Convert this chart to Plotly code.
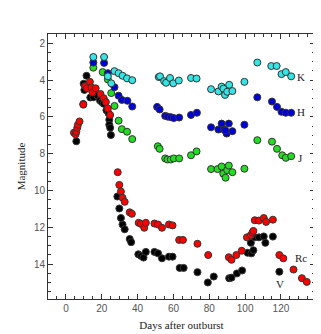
import plotly.graph_objects as go

# V band (black)
v_days = [5.8, 9.7, 9.9, 10.3, 11.5, 13.6, 15.3, 17.5, 19.0, 20.0, 21.1, 22.6, 23.8, 24.2, 24.2, 24.7, 25.1,
          28.7, 29.8, 30.7, 31.6, 32.8, 35.6, 36.4, 40.4, 41.9, 43.3, 44.6, 49.4, 51.4, 53.6, 57.5, 59.5,
          63.5, 65.7, 73.4, 79.2, 82.5, 91.1, 92.4, 95.4, 98.3, 101.4, 103.5, 104.6, 103.2, 105.4, 107.7,
          110.4, 111.3, 115.5, 119.1]
v_mags = [7.33, 5.3, 4.2, 4.54, 3.77, 4.95, 4.94, 4.85, 5.11, 5.2, 5.29, 5.64, 5.81, 6.16, 6.43, 6.6, 6.99,
          10.33, 10.98, 11.5, 11.85, 12.11, 12.64, 12.81, 13.47, 13.56, 13.65, 13.34, 13.34, 13.42, 13.69, 13.6, 13.6,
          14.21, 14.21, 14.44, 15.0, 14.68, 14.77, 14.74, 14.51, 14.35, 13.39, 13.42, 13.25, 12.85, 12.55, 12.55,
          12.5, 12.85, 12.51, 14.42]

# Rc band (red)
r_days = [4.5, 5.4, 5.8, 6.3, 6.7, 7.6, 9.7, 10.7, 11.7, 13.4, 14.3, 14.8, 16.6, 19.3, 21.1, 22.3, 23.4, 24.7,
          28.9, 29.8, 30.7, 31.6, 32.8, 35.6, 36.8, 40.6, 41.9, 43.7, 44.6, 49.4, 51.4, 53.6, 57.5, 59.5,
          63.2, 65.3, 73.4, 79.4, 90.9, 92.4, 95.1, 98.1, 101.0, 103.2, 104.1, 104.6, 105.4, 107.7, 110.4,
          111.7, 115.5, 119.1, 121.3, 127.0, 131.7, 134.4]
r_mags = [6.86, 6.95, 6.81, 6.6, 6.43, 6.25, 5.34, 4.33, 4.45, 4.1, 4.41, 4.68, 4.45, 4.76, 4.99, 5.2, 5.55, 5.9,
          9.01, 9.7, 10.06, 10.4, 10.62, 11.19, 11.27, 11.76, 11.82, 12.03, 11.76, 11.8, 11.85, 12.03, 11.85, 11.9,
          12.69, 12.69, 12.9, 13.51, 13.63, 13.77, 13.51, 13.28, 12.55, 12.43, 12.29, 12.2, 11.62, 11.64, 11.5,
          11.71, 11.59, 13.51, 13.69, 14.3, 14.77, 14.97]

# J band (green)
j_days = [15.3, 20.5, 23.4, 25.3, 27.1, 29.4, 31.2, 34.1, 37.0, 51.3, 52.3, 55.4, 56.7, 58.5, 60.2, 63.2,
          69.8, 72.9, 81.0, 84.6, 86.9, 87.8, 89.1, 90.0, 90.9, 92.9, 99.6, 106.8, 115.0, 117.8, 120.7,
          122.7, 125.7]
j_mags = [3.33, 3.57, 3.97, 4.71, 5.41, 6.21, 6.67, 6.81, 7.21, 7.6, 7.74, 8.26, 8.32, 8.32, 8.26, 8.26,
          8.09, 7.88, 8.84, 8.84, 8.7, 9.09, 9.31, 8.9, 8.65, 9.01, 8.82, 7.27, 7.35, 7.74, 8.09,
          8.23, 8.14]

# H band (blue)
h_days = [15.3, 21.3, 23.4, 27.1, 29.4, 31.2, 34.3, 37.0, 50.9, 52.3, 55.4, 56.8, 58.6, 60.2, 63.2, 69.8,
          73.1, 81.0, 85.1, 86.9, 88.2, 89.7, 89.0, 90.9, 92.9, 99.6, 106.8, 115.0, 117.8, 120.3, 122.7, 125.7]
h_mags = [3.05, 3.07, 3.63, 4.39, 4.85, 5.08, 5.13, 5.44, 5.46, 5.6, 5.95, 5.99, 6.02, 6.07, 6.04, 5.9,
          5.78, 6.57, 6.69, 6.37, 6.69, 6.91, 6.75, 6.37, 6.78, 6.43, 4.94, 5.17, 5.46, 5.73, 5.78, 5.78]

# K band (cyan)
k_days = [15.3, 21.3, 23.4, 25.3, 27.1, 29.4, 31.6, 34.1, 37.0, 51.8, 52.5, 54.8, 55.9, 58.1, 59.9, 63.0,
          69.8, 72.9, 81.0, 85.1, 86.9, 87.9, 88.8, 90.0, 91.1, 92.9, 99.6, 106.8, 114.6, 117.6, 120.3,
          122.7, 125.7]
k_mags = [2.75, 2.75, 3.8, 4.18, 3.52, 3.63, 3.77, 3.91, 4.01, 3.84, 3.8, 4.06, 4.15, 3.89, 4.18, 4.03,
          3.89, 3.92, 4.5, 4.62, 4.36, 4.47, 4.81, 4.64, 4.26, 4.6, 4.1, 3.05, 3.24, 3.24, 3.68,
          3.57, 3.8]

# band labels placed beside each curve
band_names = ['K', 'H', 'J', 'Rc', 'V']
label_days = [131, 131, 131, 131, 119.5]
label_mags = [3.85, 5.73, 8.23, 13.69, 15.1]

series = [
    (v_days, v_mags, '#000000'),
    (r_days, r_mags, '#ff0000'),
    (j_days, j_mags, '#22dd22'),
    (h_days, h_mags, '#0000dd'),
    (k_days, k_mags, '#33e5e5'),
]

fig = go.Figure()
for days, mags, color in series:
    fig.add_trace(go.Scatter(
        x=days, y=mags, mode='markers',
        marker=dict(size=7, color=color, line=dict(width=1, color='#333333')),
        showlegend=False,
    ))

for name, x, y in zip(band_names, label_days, label_mags):
    fig.add_annotation(x=x, y=y, text=name, showarrow=False, xanchor='center', yanchor='middle',
                       font=dict(family='Liberation Serif', size=11, color='#222222'))

axis_style = dict(
    showline=True, linecolor='#333333', linewidth=1, mirror='ticks',
    ticks='inside', ticklen=5, tickcolor='#333333', showgrid=False, zeroline=False,
    tickfont=dict(family='Liberation Sans', size=10, color='#555555'),
)

fig.update_xaxes(range=[-10, 139], dtick=20, tick0=0,
                 minor=dict(dtick=5, ticks='inside', ticklen=3, tickcolor='#333333'),
                 title=dict(text='Days after outburst', standoff=8,
                            font=dict(family='Liberation Serif', size=11, color='#222222')),
                 **axis_style)
fig.update_yaxes(range=[15.9, 1.5], dtick=2, tick0=0,
                 minor=dict(dtick=0.5, ticks='inside', ticklen=3, tickcolor='#333333'),
                 title=dict(text='Magnitude', standoff=6,
                            font=dict(family='Liberation Serif', size=11, color='#222222')),
                 **axis_style)

fig.update_layout(
    width=321, height=334,
    margin=dict(l=33, r=14, t=26, b=34),
    plot_bgcolor='white', paper_bgcolor='white',
)

fig.write_html('out.html')
